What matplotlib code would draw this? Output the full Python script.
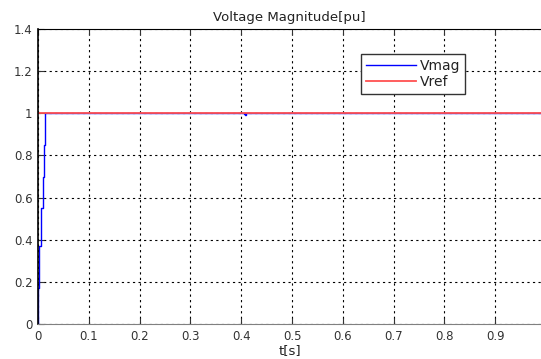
import matplotlib
matplotlib.use("Agg")
import matplotlib.pyplot as plt

# Vmag trace (step-like rise, tiny dip near 0.41 s)
t_vmag = [0.0, 0.0006, 0.0020, 0.0050, 0.0066, 0.0097, 0.0118, 0.0146, 0.405, 0.407, 0.409, 0.990]
v_mag = [0.0, 0.17, 0.37, 0.50, 0.55, 0.70, 0.85, 1.00, 0.995, 0.993, 1.00, 1.00]

t_ref = [0.0, 0.990]
v_ref = [1.0, 1.0]

x_ticks = [0, 0.1, 0.2, 0.3, 0.4, 0.5, 0.6, 0.7, 0.8, 0.9]
x_labels = ["0", "0.1", "0.2", "0.3", "0.4", "0.5", "0.6", "0.7", "0.8", "0.9"]
y_ticks = [0, 0.2, 0.4, 0.6, 0.8, 1.0, 1.2, 1.4]
y_labels = ["0", "0.2", "0.4", "0.6", "0.8", "1", "1.2", "1.4"]

plt.rcParams["font.family"] = ["DejaVu Sans"]

fig = plt.figure(figsize=(5.41, 3.59), dpi=100)
ax = fig.add_axes([38 / 541, 1 - 324 / 359, 1 - 38 / 541, (324 - 29) / 359])

ax.plot(t_vmag, v_mag, color="#0000ff", lw=1.0, drawstyle="steps-post", label="Vmag")
ax.plot(t_ref, v_ref, color="#ff5050", lw=1.3, label="Vref")

ax.set_xlim(0, 0.990)
ax.set_ylim(0, 1.4)
ax.set_xticks(x_ticks)
ax.set_xticklabels(x_labels)
ax.set_yticks(y_ticks)
ax.set_yticklabels(y_labels)
ax.tick_params(direction="in", labelsize=8.5, length=4, colors="#333333", top=True, pad=4)
ax.grid(True, color="black", linestyle=(0, (2, 3)), lw=0.8)

ax.spines["right"].set_visible(False)
ax.spines["bottom"].set_color("#808080")
ax.spines["left"].set_linewidth(1.2)

ax.set_title("Voltage Magnitude[pu]", fontsize=9.5, pad=6, color="#222222")
ax.set_xlabel("t[s]", fontsize=9.5, labelpad=1, color="#222222")

leg = ax.legend(loc="upper left", bbox_to_anchor=((361 - 38) / 503, 1 - (54 - 29) / 295),
                borderaxespad=0, fontsize=10, fancybox=False, framealpha=1,
                edgecolor="#333333", handlelength=3.6, borderpad=0.35, labelspacing=0.15,
                handletextpad=0.3)
leg.get_frame().set_linewidth(1.0)
for txt in leg.get_texts():
    txt.set_color("#222222")

fig.savefig("out.png", dpi=100)
